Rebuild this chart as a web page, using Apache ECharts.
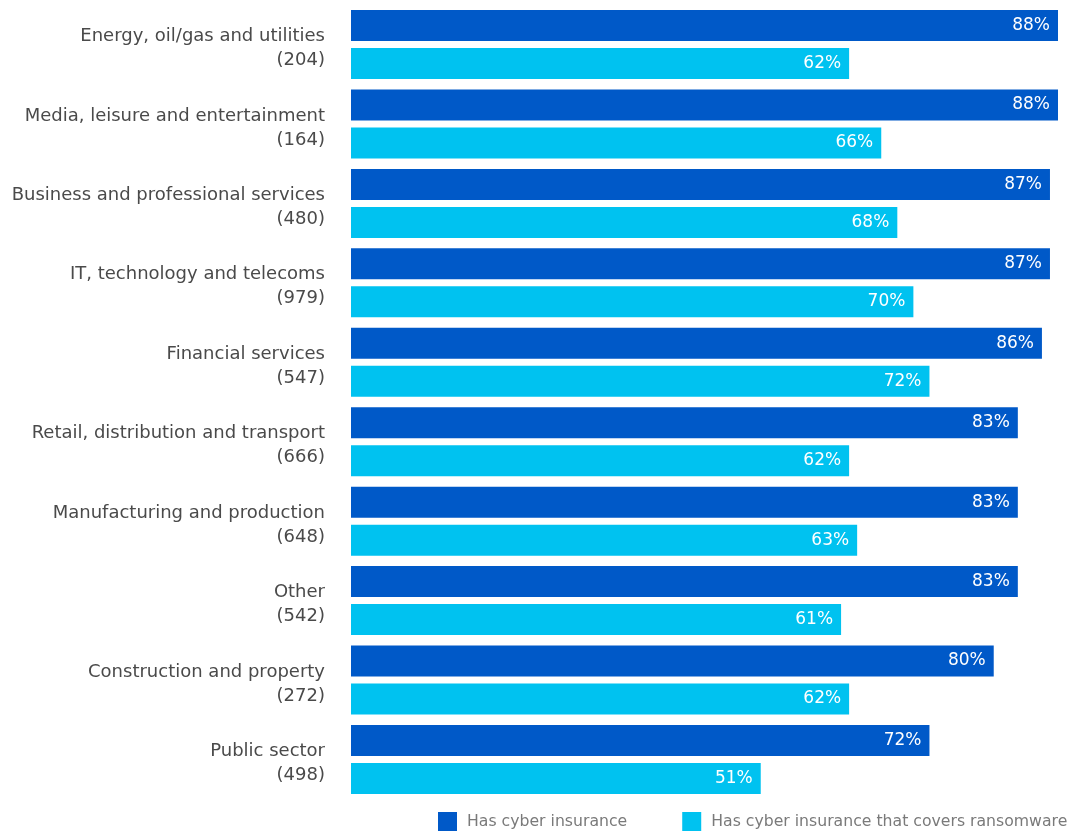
<!DOCTYPE html>
<html><head><meta charset="utf-8">
<script src="https://cdn.jsdelivr.net/npm/echarts@6/dist/echarts.min.js"></script>
<style>html,body{margin:0;padding:0;background:#fff}#c{width:1068px;height:831px}</style>
</head><body><div id="c"></div>
<script>
const categories = ["Energy, oil/gas and utilities","Media, leisure and entertainment","Business and professional services","IT, technology and telecoms","Financial services","Retail, distribution and transport","Manufacturing and production","Other","Construction and property","Public sector"];
const counts = ["204","164","480","979","547","666","648","542","272","498"];
const hasInsurance = [88,88,87,87,86,83,83,83,80,72];
const coversRansomware = [62,66,68,70,72,62,63,61,62,51];
const seriesNames = ["Has cyber insurance","Has cyber insurance that covers ransomware"];

const chart = echarts.init(document.getElementById('c'));
const font = '"DejaVu Sans", sans-serif';
const labelCfg = {show:true, position:'insideRight', distance:8, color:'#fff', fontSize:17, fontWeight:'normal', fontFamily:font, formatter:'{c}%'};
chart.setOption({
  animation:false,
  grid:{left:351, right:10, top:4.78, bottom:31.8, containLabel:false},
  xAxis:{type:'value', min:0, max:88, show:false},
  yAxis:{type:'category', inverse:true, data:categories,
    axisLine:{show:false}, axisTick:{show:false},
    axisLabel:{align:'right', margin:26,
      formatter:(v, i)=>'{s|}\n{a|'+v+'}\n{a|('+counts[i]+')}',
      rich:{
        s:{lineHeight:8, fontSize:8, fontFamily:font},
        a:{color:'#4a4a4a', fontSize:18, fontFamily:font, lineHeight:24, align:'right'}
      }}},
  legend:{top:812, left:438, padding:0, itemWidth:19, itemHeight:19, itemGap:55, icon:'rect',
    textStyle:{color:'#7a7a7a', fontSize:15.7, fontFamily:font, padding:[0,0,0,5]}, data:seriesNames},
  series:[
    {name:seriesNames[0], type:'bar', data:hasInsurance, barWidth:31, barGap:'22.6%', itemStyle:{color:'#0059C8'}, label:labelCfg},
    {name:seriesNames[1], type:'bar', data:coversRansomware, barWidth:31, itemStyle:{color:'#00C2F0'}, label:labelCfg}
  ]
});
</script></body></html>
